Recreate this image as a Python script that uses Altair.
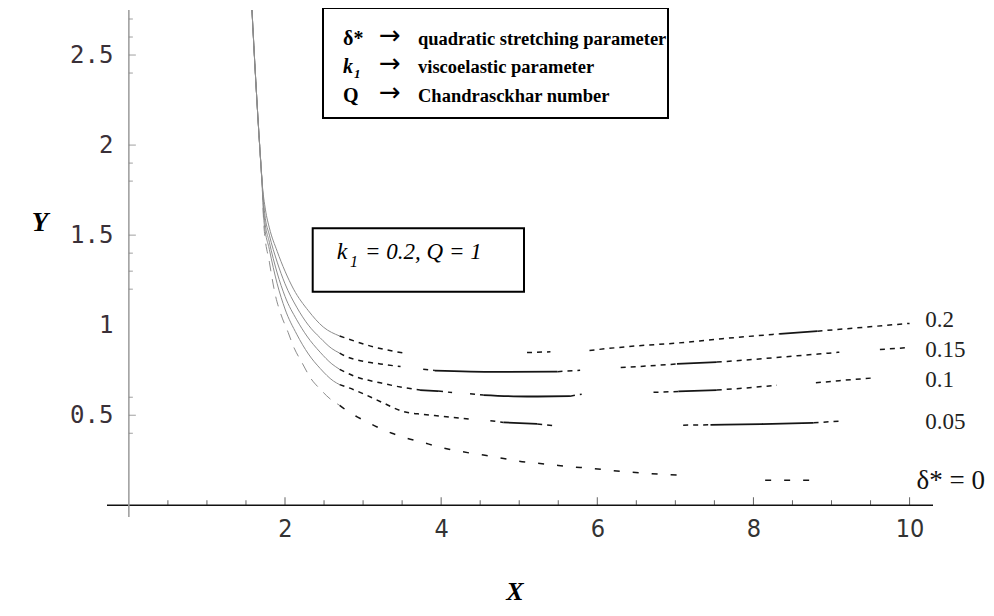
import altair as alt
import pandas as pd

# ---------------- data ----------------
CURVES = ["0", "0.05", "0.1", "0.15", "0.2"]

# each curve is a list of plotted pieces (the reference is drawn with gaps)
C0_X = [[1.577, 1.62, 1.675, 1.705, 1.73, 1.8, 1.88, 1.94, 2.04, 2.11, 2.22, 2.33, 2.45, 2.58, 2.7],
        [2.7, 2.81, 2.93, 3.18, 3.37, 3.54, 3.76, 3.96, 4.12, 4.37, 4.6, 4.8, 5.0, 5.2, 5.42, 5.63, 5.78, 6.08, 6.25, 6.45, 6.68, 6.87, 7.1],
        [8.15, 8.76]]
C0_Y = [[2.75, 2.4, 2.0, 1.8, 1.55, 1.35, 1.16, 1.07, 0.96, 0.88, 0.79, 0.705, 0.645, 0.59, 0.555],
        [0.555, 0.52, 0.49, 0.435, 0.40, 0.375, 0.35, 0.325, 0.31, 0.29, 0.275, 0.26, 0.245, 0.235, 0.225, 0.215, 0.21, 0.198, 0.19, 0.183, 0.176, 0.171, 0.167],
        [0.139, 0.139]]

C05_X = [[1.577, 1.62, 1.675, 1.705, 1.73, 1.8, 1.9, 2.0, 2.15, 2.3, 2.45, 2.62, 2.7],
         [2.7, 2.8, 3.0, 3.25, 3.52, 3.77, 4.0, 4.37],
         [4.63, 4.8], [4.8, 5.23], [5.23, 5.43],
         [7.1, 7.45], [7.45, 8.1, 8.77], [8.77, 9.1]]
C05_Y = [[2.75, 2.4, 2.0, 1.8, 1.58, 1.42, 1.23, 1.09, 0.95, 0.84, 0.76, 0.69, 0.67],
         [0.67, 0.655, 0.62, 0.57, 0.52, 0.505, 0.495, 0.478],
         [0.47, 0.46], [0.46, 0.452], [0.452, 0.443],
         [0.445, 0.447], [0.447, 0.451, 0.458], [0.458, 0.467]]

C1_X = [[1.577, 1.62, 1.675, 1.705, 1.735, 1.8, 1.9, 2.0, 2.15, 2.28, 2.45, 2.6, 2.7],
        [2.7, 2.9, 3.22, 3.5, 3.73], [3.73, 3.96], [3.96, 4.14],
        [4.37, 4.54], [4.54, 5.1, 5.65], [5.65, 5.8],
        [6.72, 7.04], [7.04, 7.53], [7.53, 8.0, 8.3],
        [8.8, 9.1, 9.53]]
C1_Y = [[2.75, 2.4, 2.0, 1.8, 1.6, 1.46, 1.29, 1.16, 1.03, 0.94, 0.85, 0.785, 0.755],
        [0.755, 0.715, 0.68, 0.655, 0.64], [0.64, 0.634], [0.634, 0.626],
        [0.619, 0.612], [0.612, 0.604, 0.606], [0.606, 0.617],
        [0.627, 0.632], [0.632, 0.64], [0.64, 0.655, 0.667],
        [0.68, 0.692, 0.707]]

C15_X = [[1.577, 1.62, 1.675, 1.705, 1.74, 1.8, 1.9, 2.0, 2.15, 2.3, 2.45, 2.6, 2.7],
         [2.7, 2.79, 3.0, 3.22, 3.48], [3.77, 3.92], [3.92, 4.7, 5.49], [5.49, 5.78],
         [6.3, 6.8, 7.02], [7.02, 7.53], [7.53, 8.0, 8.56, 9.1], [9.62, 10.0]]
C15_Y = [[2.75, 2.4, 2.0, 1.8, 1.62, 1.5, 1.35, 1.23, 1.1, 1.0, 0.93, 0.87, 0.845],
         [0.845, 0.825, 0.80, 0.785, 0.77], [0.756, 0.748], [0.748, 0.741, 0.742], [0.742, 0.75],
         [0.765, 0.778, 0.785], [0.785, 0.795], [0.795, 0.81, 0.83, 0.85], [0.865, 0.876]]

C2_X = [[1.577, 1.62, 1.675, 1.705, 1.75, 1.8, 1.9, 2.0, 2.11, 2.3, 2.49, 2.7],
        [2.7, 2.8, 3.13, 3.52], [5.1, 5.4], [5.9, 6.5, 7.0, 7.6, 8.34], [8.34, 8.82], [8.82, 9.4, 10.0]]
C2_Y = [[2.75, 2.4, 2.0, 1.8, 1.64, 1.54, 1.41, 1.3, 1.2, 1.08, 0.99, 0.94],
        [0.94, 0.925, 0.88, 0.845], [0.848, 0.852], [0.86, 0.885, 0.9, 0.925, 0.952], [0.952, 0.967], [0.967, 0.988, 1.01]]

# curve-end labels
LABEL_TEXT = ["δ* = 0", "0.05", "0.1", "0.15", "0.2"]
LABEL_X = [10.09, 10.2, 10.2, 10.2, 10.2]
LABEL_Y = [0.093, 0.426, 0.657, 0.824, 0.99]

X_MAJOR = [2, 4, 6, 8, 10]
X_MINOR = [0.5, 1, 1.5, 2.5, 3, 3.5, 4.5, 5, 5.5, 6.5, 7, 7.5, 8.5, 9, 9.5]
Y_MAJOR = [0.5, 1, 1.5, 2, 2.5]
Y_MAJOR_TICKS = [0.5, 1.5, 2, 2.5]
Y_MINOR = [0.4, 0.6, 1.2, 1.3, 1.4, 1.8, 1.9, 2.4, 2.6, 2.7]

# ---------------- drawing styles of the pieces ----------------
STYLE = {
    "0": ["gdash", "sparse", "sparse"],
    "0.05": ["gray", "dash", "dash", "solid", "dash", "dash", "solid", "dash"],
    "0.1": ["gray", "dash", "solid", "dash", "dash", "solid", "dash", "dash", "solid", "dash", "dash"],
    "0.15": ["gray", "dash", "dash", "solid", "dash", "dash", "solid", "dash", "dash"],
    "0.2": ["gray", "dash", "dash", "dash", "solid", "dash"],
}
SERIES = {"0": (C0_X, C0_Y), "0.05": (C05_X, C05_Y), "0.1": (C1_X, C1_Y),
          "0.15": (C15_X, C15_Y), "0.2": (C2_X, C2_Y)}

rows = []
for name in CURVES:
    xs, ys = SERIES[name]
    for i, (px, py) in enumerate(zip(xs, ys)):
        for a, b in zip(px, py):
            rows.append({"curve": name, "seg": f"{name}-{i}", "style": STYLE[name][i], "X": a, "Y": b})
df = pd.DataFrame(rows)

XS = alt.Scale(domain=[-0.28, 10.3], nice=False, zero=False)
YS = alt.Scale(domain=[-0.065, 2.75], nice=False, zero=False)
XAX = alt.Axis(values=X_MAJOR, title="", grid=False, ticks=False, tickSize=0, domain=False,
               offset=-11.7, labelPadding=11, format=".2~f",
               labelFont="Liberation Sans Narrow, DejaVu Sans Condensed, Liberation Sans",
               labelFontSize=25, labelColor="#333333")
YAX = alt.Axis(values=Y_MAJOR, title="", grid=False, ticks=False, tickSize=0, domain=False,
               offset=-21.9, labelPadding=16, format=".2~f",
               labelFont="DejaVu Sans Mono", labelFontSize=24, labelColor="#3a3038")


def xq(f):
    return alt.X(f, type="quantitative", scale=XS, axis=XAX)


def yq(f):
    return alt.Y(f, type="quantitative", scale=YS, axis=YAX)


base = alt.Chart(df)


def piece_layer(style, color, width, dash=None):
    kw = dict(color=color, strokeWidth=width, interpolate="monotone")
    if dash:
        kw["strokeDash"] = dash
    return base.transform_filter(alt.datum.style == style).mark_line(**kw).encode(
        x=xq("X"), y=yq("Y"), detail="seg:N")


lines = [
    piece_layer("gray", "#8c8c8c", 1.0),
    piece_layer("gdash", "#8c8c8c", 1.0, [10, 8]),
    piece_layer("dash", "#151515", 1.5, [5, 5]),
    piece_layer("sparse", "#151515", 1.5, [6, 13]),
    piece_layer("solid", "#151515", 1.8),
]

# axes lines
x_axis_line = alt.Chart(pd.DataFrame({"a": [-0.28], "b": [10.3], "c": [0]})).mark_rule(
    color="#111111", strokeWidth=1.5).encode(x=xq("a"), x2="b:Q", y=yq("c"))
y_axis_line = alt.Chart(pd.DataFrame({"a": [0], "b": [-0.065], "c": [2.75]})).mark_rule(
    color="#9a9a9a", strokeWidth=1.5).encode(x=xq("a"), y=yq("b"), y2="c:Q")


# ticks (drawn inside, as in the reference)
def xticks(vals, size):
    d = pd.DataFrame({"v": vals, "z": [0] * len(vals)})
    return alt.Chart(d).mark_tick(orient="vertical", size=size, thickness=1, yOffset=-size / 2,
                                  color="#222222").encode(x=xq("v"), y=yq("z"))


def yticks(vals, size):
    d = pd.DataFrame({"v": vals, "z": [0] * len(vals)})
    return alt.Chart(d).mark_tick(orient="horizontal", size=size, thickness=1, xOffset=size / 2,
                                  color="#777777").encode(x=xq("z"), y=yq("v"))


ticks = [xticks(X_MAJOR, 8), xticks(X_MINOR, 5), yticks(Y_MAJOR_TICKS, 7), yticks(Y_MINOR, 4)]

# curve labels
lab_df = pd.DataFrame({"t": LABEL_TEXT[1:], "X": LABEL_X[1:], "Y": LABEL_Y[1:]})
labels = alt.Chart(lab_df).mark_text(align="left", baseline="alphabetic", font="Liberation Serif",
                                     fontSize=23, color="#222222").encode(
    x=xq("X"), y=yq("Y"), text="t:N")
lab0_df = pd.DataFrame({"t": LABEL_TEXT[:1], "X": LABEL_X[:1], "Y": LABEL_Y[:1]})
label0 = alt.Chart(lab0_df).mark_text(align="left", baseline="alphabetic", font="Liberation Serif",
                                      fontSize=27, color="#111111").encode(
    x=xq("X"), y=yq("Y"), text="t:N")


def txt(s, x, y, size, weight="normal", style="normal", align="left", baseline="alphabetic",
        color="#000000", font="Liberation Serif"):
    return alt.Chart(pd.DataFrame({"t": [s]})).mark_text(
        align=align, baseline=baseline, font=font, fontSize=size,
        fontWeight=weight, fontStyle=style, color=color).encode(
        x=alt.value(x), y=alt.value(y), text="t:N")


def box(x1, x2, y1, y2):
    return alt.Chart(pd.DataFrame({"t": [0]})).mark_rect(
        fill="white", stroke="#000000", strokeWidth=2).encode(
        x=alt.value(x1), x2=alt.value(x2), y=alt.value(y1), y2=alt.value(y2))


ARROW_FONT = "DejaVu Sans"
legend = [
    box(216, 561, -2, 108),
    txt("δ*", 236, 35, 20, weight="bold"),
    txt("→", 283, 34, 26, align="center", font=ARROW_FONT),
    txt("quadratic stretching parameter", 311, 35, 18.5, weight="bold"),
    txt("k", 236, 63.3, 20, weight="bold", style="italic"),
    txt("1", 247, 68, 13, weight="bold", style="italic"),
    txt("→", 283, 62.3, 26, align="center", font=ARROW_FONT),
    txt("viscoelastic parameter", 311, 63.3, 18.5, weight="bold"),
    txt("Q", 236, 91.7, 20, weight="bold"),
    txt("→", 283, 90.7, 26, align="center", font=ARROW_FONT),
    txt("Chandrasckhar number", 311, 91.7, 18.5, weight="bold"),
    box(205.7, 417, 218.3, 281.7),
    txt("k", 229.7, 249.3, 24, style="italic"),
    txt("1", 243, 256.7, 16, style="italic"),
    txt("= 0.2, Q = 1", 258, 249.3, 23, style="italic"),
    txt("Y", -67, 213, 27, weight="bold", style="italic", align="center", baseline="middle"),
    txt("X", 408, 582, 26, weight="bold", style="italic", align="center", baseline="middle"),
]

chart = alt.layer(
    *lines, x_axis_line, y_axis_line, *ticks, labels, label0, *legend
).properties(
    width=826, height=507,
    autosize=alt.AutoSizeParams(type="none"),
    padding={"left": 99, "top": 2, "right": 53, "bottom": 89},
).configure_view(strokeWidth=0).configure_axis(grid=False)

chart.save("out.html", embed_options={"renderer": "svg", "actions": False})
